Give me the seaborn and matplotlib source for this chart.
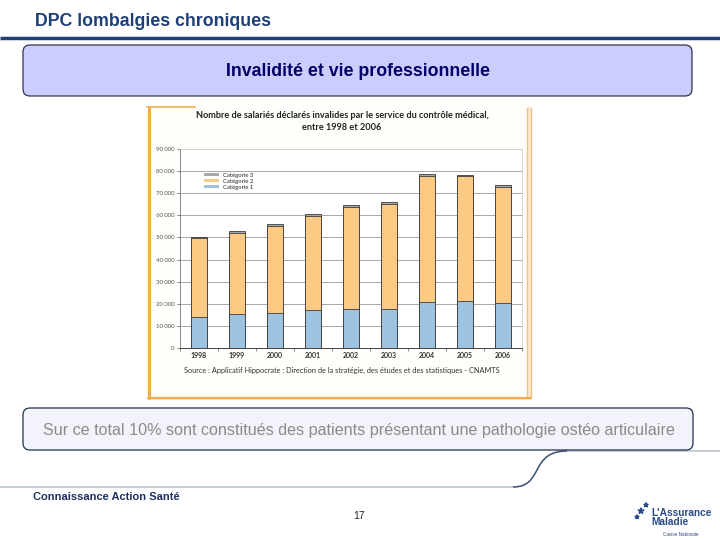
import numpy as np
import pandas as pd
import matplotlib
matplotlib.use("Agg")
import matplotlib.pyplot as plt
import seaborn as sns
from matplotlib.patches import FancyBboxPatch, Rectangle, Patch, PathPatch
from matplotlib.path import Path

### data
years = ["1998", "1999", "2000", "2001", "2002", "2003", "2004", "2005", "2006"]
cat1 = [14000, 15500, 16000, 17000, 17600, 17700, 21000, 21300, 20400]
cat2 = [35600, 36500, 39000, 42600, 46200, 47600, 57000, 56400, 52500]
cat3 = [800, 1000, 1100, 1000, 900, 800, 900, 600, 900]
y_ticks = [0, 10000, 20000, 30000, 40000, 50000, 60000, 70000, 80000, 90000]
y_tick_labels = ["0", "10 000", "20 000", "30 000", "40 000", "50 000",
                 "60 000", "70 000", "80 000", "90 000"]
legend_labels = ["Catégorie 3", "Catégorie 2", "Catégorie 1"]

df = pd.DataFrame({"year": years, "c1": cat1, "c2": cat2, "c3": cat3})
df["c12"] = df["c1"] + df["c2"]
df["tot"] = df["c12"] + df["c3"]

col1 = "#9dc3e0"
col2 = "#fdca84"
col3 = "#a9a9a9"
edge = "#3c3c3c"

sns.set_theme(style="white")
slide_font = ["Liberation Sans", "DejaVu Sans"]
chart_font = ["Lato", "DejaVu Sans"]
plt.rcParams["font.family"] = slide_font

fig = plt.figure(figsize=(7.2, 5.4), dpi=100)
fig.patch.set_facecolor("white")

### slide background drawn in pixel units
bg = fig.add_axes([0, 0, 1, 1], zorder=0)
bg.set_xlim(0, 720)
bg.set_ylim(540, 0)
bg.axis("off")

bg.text(35, 22, "DPC lombalgies chroniques", fontsize=12.8, fontweight="bold",
        color="#1f3f77", va="center", ha="left", family=slide_font)
bg.plot([0, 720], [38, 38], color="#1f3f77", lw=2.5, solid_capstyle="butt")

bg.add_patch(FancyBboxPatch((23, 45), 669, 51, boxstyle="round,pad=0,rounding_size=7",
                            facecolor="#ccccff", edgecolor="#33334d", lw=0.9))
bg.text(358, 72, "Invalidité et vie professionnelle", fontsize=12.8, fontweight="bold",
        color="#000066", va="center", ha="center", family=slide_font)

# embedded chart picture frame
bg.add_patch(Rectangle((150, 107), 377, 290, facecolor="#fffefb", edgecolor="none"))
bg.add_patch(Rectangle((527, 107), 4, 291, facecolor="#fbe8c8", edgecolor="none"))
bg.add_patch(Rectangle((148, 397), 383, 3, facecolor="#fbe8c8", edgecolor="none"))
bg.plot([148.5, 148.5], [107, 398], color="#f2ae4a", lw=2.2)
bg.plot([147, 195], [107, 107], color="#f2ae4a", lw=1.2)
bg.plot([527, 527], [108, 398], color="#e8c48a", lw=1.0)
bg.plot([531, 531], [108, 398], color="#e8c48a", lw=1.0)
bg.plot([148, 531], [397.5, 397.5], color="#f2ae4a", lw=1.6)

bg.text(342, 115, "Nombre de salariés déclarés invalides par le service du contrôle médical,",
        fontsize=6.6, fontweight="bold", color="#222222", ha="center", va="center", family=chart_font)
bg.text(342, 128, "entre 1998 et 2006", fontsize=6.6, fontweight="bold", color="#222222",
        ha="center", va="center", family=chart_font)
bg.text(342, 370, "Source : Applicatif Hippocrate : Direction de la stratégie, des études et des statistiques - CNAMTS",
        fontsize=5.3, color="#333333", ha="center", va="center", family=chart_font)

# decorative swoosh (drawn under the lower box)
verts = [(0, 487), (513, 487),
         (528, 487), (532, 479), (537, 470),
         (543, 458), (550, 451), (567, 451),
         (720, 451)]
codes = [Path.MOVETO, Path.LINETO,
         Path.CURVE4, Path.CURVE4, Path.CURVE4,
         Path.CURVE4, Path.CURVE4, Path.CURVE4,
         Path.LINETO]
bg.add_patch(PathPatch(Path(verts, codes), facecolor="none", edgecolor="#c3cad6", lw=1.3))
bg.add_patch(PathPatch(Path(verts[1:8], [Path.MOVETO] + codes[2:8]), facecolor="none",
                       edgecolor="#3d4f73", lw=1.0))

bg.add_patch(FancyBboxPatch((23, 408), 670, 42, boxstyle="round,pad=0,rounding_size=7",
                            facecolor="#f3f3fc", edgecolor="#22304d", lw=0.9))
bg.text(359, 430, "Sur ce total 10% sont constitués des patients présentant une pathologie ostéo articulaire",
        fontsize=11.6, color="#8a8a8a", ha="center", va="center", family=slide_font)

bg.text(33, 497, "Connaissance Action Santé", fontsize=8, fontweight="bold",
        color="#1f3060", ha="left", va="center", family=slide_font)
bg.text(359, 516, "17", fontsize=7.5, color="#222222", ha="center", va="center", family=slide_font)

# logo (text only)
bg.text(651, 513, "L'Assurance", fontsize=7.3, fontweight="bold", color="#2a4a8a",
        ha="left", va="center", family=slide_font)
bg.text(651, 522, "Maladie", fontsize=7.3, fontweight="bold", color="#2a4a8a",
        ha="left", va="center", family=slide_font)
bg.text(663, 535, "Caisse Nationale", fontsize=3.3, color="#2a4a8a",
        ha="left", va="center", family=slide_font)
bg.scatter([641, 646, 637], [511, 505, 517], s=[18, 10, 8], color="#2a4a8a", marker="*")

### the bar chart itself
ax = fig.add_axes([180 / 720, 1 - 348 / 540, 342 / 720, 199 / 540], zorder=2)
ax.set_facecolor("white")

sns.barplot(data=df, x="year", y="tot", color=col3, width=0.4, edgecolor=edge,
            linewidth=0.6, errorbar=None, saturation=1, ax=ax, zorder=3)
sns.barplot(data=df, x="year", y="c12", color=col2, width=0.4, edgecolor=edge,
            linewidth=0.6, errorbar=None, saturation=1, ax=ax, zorder=3)
sns.barplot(data=df, x="year", y="c1", color=col1, width=0.4, edgecolor=edge,
            linewidth=0.6, errorbar=None, saturation=1, ax=ax, zorder=3)

ax.set_xlim(-0.5, len(years) - 0.5)
ax.set_ylim(0, 90000)
ax.set_yticks(y_ticks)
ax.set_yticklabels(y_tick_labels, fontsize=4.3, color="#555555", family=chart_font)
ax.set_xticks(range(len(years)))
ax.set_xticklabels(years, fontsize=5, fontweight="bold", color="#333333", family=chart_font)
ax.set_xticks(np.arange(-0.5, len(years)), minor=True)
ax.tick_params(axis="x", which="major", length=0, pad=3)
ax.tick_params(axis="x", which="minor", length=2, width=0.5, color="#555555", bottom=True)
ax.tick_params(axis="y", length=2, width=0.5, color="#555555", left=True, pad=2)
ax.set_xlabel("")
ax.set_ylabel("")

for v in y_ticks[1:]:
    ax.axhline(v, color="#d0d0d0" if v == 90000 else "#9a9a9a", lw=0.6, zorder=1)

for s in ["top", "right"]:
    ax.spines[s].set_color("#d0d0d0")
    ax.spines[s].set_linewidth(0.6)
ax.spines["left"].set_color("#777777")
ax.spines["left"].set_linewidth(0.6)
ax.spines["bottom"].set_color("#444444")
ax.spines["bottom"].set_linewidth(0.7)

handles = [Patch(facecolor=c, edgecolor="none") for c in [col3, col2, col1]]
ax.legend(handles, legend_labels, loc="upper left", bbox_to_anchor=(0.06, 0.895),
          frameon=False, handlelength=2.6, handleheight=0.35,
          labelspacing=0.15, handletextpad=0.6, borderpad=0,
          prop={"family": chart_font, "size": 4.3})

fig.savefig("out.png", dpi=100)
